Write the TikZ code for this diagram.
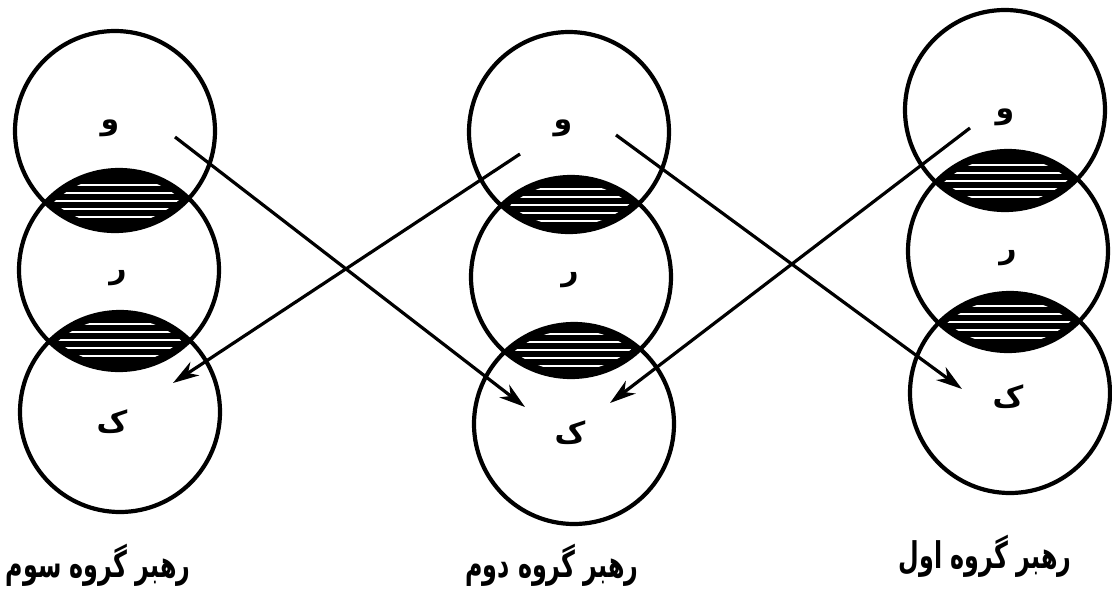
\documentclass[tikz,border=0pt]{standalone}
\usepackage{fontspec}
\usepackage{graphicx}
\TeXXeTstate=1
\newfontfamily\arabicfont[Script=Arabic]{DejaVu Sans}
\usetikzlibrary{arrows.meta,calc}
\newcommand\myLens[3]{%
  \begin{scope}
    \clip (#1) circle (100pt);
    \fill[black] (#2) circle (100pt);
  \end{scope}
  \begin{scope}
    \clip (#1) circle (94pt);
    \clip (#2) circle (94pt);
    \foreach \d in {-16,-8,0,8,16}
      \draw[white,line width=2.2pt] ($(#3)+(-75,\d)$) -- ++(150,0);
  \end{scope}}
\newcommand\capText[1]{\scalebox{0.70}[1.08]{\beginR #1\endR}}
\begin{document}
\begin{tikzpicture}[x=1pt,y=-1pt,
  ring/.style={circle, draw, line width=4.2pt, minimum size=200pt, inner sep=0pt},
  letter/.style={font=\arabicfont\bfseries\fontsize{30}{34}\selectfont, inner sep=0pt},
  caption/.style={font=\arabicfont\bfseries\fontsize{34}{38}\selectfont, inner sep=0pt},
  link/.style={line width=3.2pt, -{Stealth[length=26pt,width=16pt,inset=8pt]}}
]
\useasboundingbox (0,0) rectangle (1112,595);
% circle centres
\coordinate (LT) at (115,131); \coordinate (LM) at (119,270); \coordinate (LB) at (120,412);
\coordinate (MT) at (569,132); \coordinate (MM) at (571,277); \coordinate (MB) at (574,424);
\coordinate (RT) at (1005,110); \coordinate (RM) at (1008,251); \coordinate (RB) at (1010,393);
% lenses
\myLens{LT}{LM}{117,201}
\myLens{LM}{LB}{120,340}
\myLens{MT}{MM}{570,205}
\myLens{MM}{MB}{572,350}
\myLens{RT}{RM}{1006,181}
\myLens{RM}{RB}{1009,322}
% circles
\node[ring] (cLT) at (LT) {}; \node[ring] (cLM) at (LM) {}; \node[ring] (cLB) at (LB) {};
\node[ring] (cMT) at (MT) {}; \node[ring] (cMM) at (MM) {}; \node[ring] (cMB) at (MB) {};
\node[ring] (cRT) at (RT) {}; \node[ring] (cRM) at (RM) {}; \node[ring] (cRB) at (RB) {};
% letters
\node[letter] (tLT) at (110,128) {\beginR و\endR};
\node[letter] (tLM) at (118,278) {\beginR ر\endR};
\node[letter] (tLB) at (112,422) {\beginR ک\endR};
\node[letter] (tMT) at (563,128) {\beginR و\endR};
\node[letter] (tMM) at (570,280) {\beginR ر\endR};
\node[letter] (tMB) at (570,433) {\beginR ک\endR};
\node[letter] (tRT) at (1005,117) {\beginR و\endR};
\node[letter] (tRM) at (1008,258) {\beginR ر\endR};
\node[letter] (tRB) at (1008,397) {\beginR ک\endR};
% arrow ends
\coordinate (s1) at (175,137); \coordinate (e1) at (525,407);
\coordinate (s2) at (520,154); \coordinate (e2) at (173,383);
\coordinate (s3) at (616,135); \coordinate (e3) at (962,389);
\coordinate (s4) at (970,128); \coordinate (e4) at (610,403);
\draw[link] (s1) -- (e1);
\draw[link] (s2) -- (e2);
\draw[link] (s3) -- (e3);
\draw[link] (s4) -- (e4);
% captions
\node[caption] (capL) at (98,565) {\capText{رهبر گروه سوم}};
\node[caption] (capM) at (552,565) {\capText{رهبر گروه دوم}};
\node[caption] (capR) at (985,556) {\capText{رهبر گروه اول}};
\end{tikzpicture}
\end{document}
